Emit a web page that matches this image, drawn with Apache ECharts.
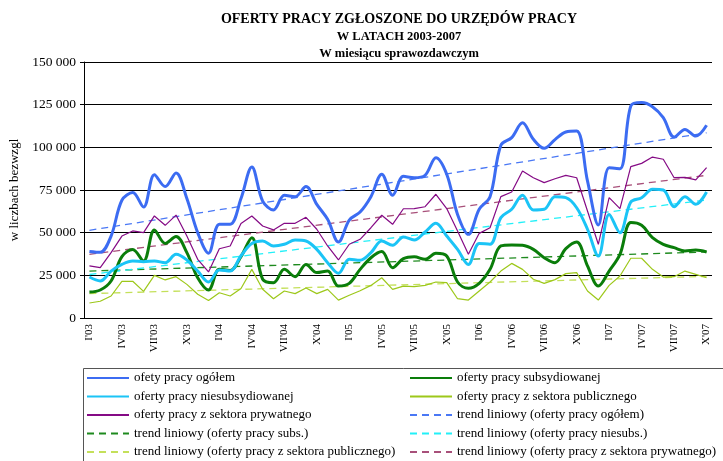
<!DOCTYPE html>
<html style="height: 100%">
<head>
    <meta charset="utf-8">
</head>
<body style="height: 100%; margin: 0; background: #fff">
<div id="container" style="width: 723px; height: 461px"></div>

<script type="text/javascript" src="https://cdn.jsdelivr.net/npm/echarts@6/dist/echarts.min.js"></script>
<script type="text/javascript">
    // miesiące I'03 .. X'07
    var roman = ['I', 'II', 'III', 'IV', 'V', 'VI', 'VII', 'VIII', 'IX', 'X', 'XI', 'XII'];
    var years = ['03', '04', '05', '06', '07'];
    var months = [];
    years.forEach(function (y) {
        roman.forEach(function (m) { months.push(m + "'" + y); });
    });
    months = months.slice(0, 58);

    // wartości
    var ogolem = [39000, 38500, 48000, 69000, 73500, 65000, 84000, 77000, 85000, 70000, 50000, 38000,
        55000, 55000, 70000, 88500, 68500, 63300, 71900, 71100, 77000, 66600, 57800, 44500,
        57400, 62100, 71100, 84200, 71900, 83000, 82200, 83600, 93900, 84200, 60700, 49000,
        63700, 71100, 101200, 105700, 114400, 104700, 99400, 104500, 109000, 109600, 80300, 54500,
        88000, 87500, 124200, 126200, 123800, 117400, 106000, 110500, 106600, 112900];
    var subs = [15200, 16400, 21700, 36000, 40200, 33400, 51600, 43700, 47700, 38300, 23600, 16400,
        28500, 27900, 36000, 47000, 22700, 20700, 28500, 24200, 31400, 26600, 27500, 18700,
        20300, 28500, 35300, 38900, 29500, 34800, 35900, 34400, 37900, 36300, 21100, 17400,
        20300, 28500, 42200, 42800, 42600, 40200, 35300, 32400, 40600, 44500, 30500, 18700,
        27500, 37300, 55900, 54300, 47100, 43200, 41200, 39300, 39800, 38700];
    var niesubs = [24000, 21700, 27500, 31400, 33400, 33000, 33400, 32400, 37300, 34000, 27500, 21100,
        28100, 27500, 36500, 43700, 45100, 42200, 43200, 45700, 45100, 40200, 32400, 26200,
        34400, 33800, 38300, 45100, 42600, 47500, 45700, 50400, 55500, 48000, 40200, 31400,
        43700, 43200, 58800, 63700, 71900, 63300, 63700, 71100, 70500, 64600, 52000, 36300,
        60700, 50000, 68000, 70500, 75400, 75000, 65200, 71100, 66600, 73800];
    var publiczny = [8800, 9800, 12900, 21500, 21500, 15600, 25000, 22300, 24200, 19700, 13900, 10200,
        14800, 12900, 17300, 28500, 16800, 11300, 15800, 14300, 17600, 14300, 16800, 10500,
        13300, 16000, 19100, 23600, 16800, 18700, 18400, 19100, 21100, 20700, 11300, 10500,
        15800, 21100, 27500, 32000, 28500, 22700, 20300, 22500, 26000, 26600, 15800, 10500,
        19100, 24600, 35000, 35000, 28500, 24000, 24200, 27500, 25600, 23600];
    var prywatny = [30500, 29500, 38300, 48000, 51000, 50000, 59800, 54300, 60300, 48000, 34400, 27000,
        40600, 42200, 55400, 59800, 53900, 51600, 55500, 55500, 59000, 52000, 42200, 34000,
        43200, 46100, 52900, 60200, 54900, 64000, 64100, 65200, 72500, 64100, 51000, 37300,
        49600, 52900, 71100, 73800, 86100, 82200, 79300, 81600, 83600, 82200, 62700, 43200,
        70500, 64100, 88700, 90600, 94300, 93000, 82200, 82400, 80900, 88100];

    // trendy liniowe: wartość na początku (I'03) i na końcu (X'07)
    var trendOgolem = [51400, 108500];
    var trendSubs = [27500, 38700];
    var trendNiesubs = [25500, 69100];
    var trendPubliczny = [14300, 24400];
    var trendPrywatny = [37300, 83600];

    var yTicks = [0, 25000, 50000, 75000, 100000, 125000, 150000];

    var serif = 'Liberation Serif';

    function fmt(v) {
        return String(v).replace(/\B(?=(\d{3})+(?!\d))/g, ' ');
    }
    function trend(pair) {
        return [[0, pair[0]], [months.length - 1, pair[1]]];
    }
    function solid(name, data, color, width, smooth) {
        return {
            name: name, type: 'line', data: data, smooth: smooth, symbol: 'none',
            lineStyle: { color: color, width: width }, itemStyle: { color: color }
        };
    }
    function dashed(name, pair, color) {
        return {
            name: name, type: 'line', data: trend(pair), symbol: 'none', z: 3,
            lineStyle: { color: color, width: 1.3, type: [7, 5] }, itemStyle: { color: color }
        };
    }

    var names = {
        ogolem: 'ofety pracy ogółem',
        subs: 'oferty pracy subsydiowanej',
        niesubs: 'oferty pracy niesubsydiowanej',
        publ: 'oferty pracy z sektora publicznego',
        pryw: 'oferty pracy z sektora prywatnego',
        tOgolem: 'trend liniowy (oferty pracy ogółem)',
        tSubs: 'trend liniowy (oferty pracy subs.)',
        tNiesubs: 'trend liniowy (oferty pracy niesubs.)',
        tPubl: 'trend liniowy (oferty pracy z sektora publicznego)',
        tPryw: 'trend liniowy (oferty pracy z sektora prywatnego)'
    };

    var dom = document.getElementById("container");
    var myChart = echarts.init(dom, null, { renderer: 'canvas' });

    var legendBase = {
        orient: 'vertical', top: 371, padding: 0, itemGap: 4.5, itemHeight: 14, itemWidth: 42,
        itemStyle: { opacity: 0 },
        textStyle: { fontFamily: serif, fontSize: 13, color: '#000', lineHeight: 14 },
        selectedMode: false
    };

    var option = {
        animation: false,
        backgroundColor: '#fff',
        title: {
            text: '{a|OFERTY PRACY ZGŁOSZONE DO URZĘDÓW PRACY}\n{b|W LATACH 2003-2007}\n{b|W miesiącu sprawozdawczym}',
            left: 394, top: 6, textAlign: 'center',
            textStyle: {
                rich: {
                    a: { fontFamily: serif, fontWeight: 'bold', fontSize: 14, lineHeight: 17, color: '#000' },
                    b: { fontFamily: serif, fontWeight: 'bold', fontSize: 12.5, lineHeight: 17, color: '#000' }
                }
            }
        },
        legend: [
            Object.assign({}, legendBase, {
                left: 86,
                data: [names.ogolem, names.niesubs, names.pryw, names.tSubs, names.tPubl]
            }),
            Object.assign({}, legendBase, {
                left: 409,
                data: [names.subs, names.publ, names.tOgolem, names.tNiesubs, names.tPryw]
            })
        ],
        graphic: [{
            type: 'rect', left: 81, top: 366, silent: true,
            shape: { width: 660, height: 100 },
            style: { fill: 'none', stroke: '#555', lineWidth: 1 }
        }],
        grid: { left: 84, right: 11, top: 62, bottom: 143 },
        xAxis: {
            type: 'category', data: months, boundaryGap: true,
            axisLine: { lineStyle: { color: '#000', width: 1 } },
            axisTick: { interval: 0, length: 4, lineStyle: { color: '#000' } },
            axisLabel: {
                interval: 2, rotate: 90, margin: 6,
                fontFamily: serif, fontSize: 11, color: '#000'
            }
        },
        yAxis: {
            type: 'value', min: yTicks[0], max: yTicks[yTicks.length - 1], interval: yTicks[1] - yTicks[0],
            name: 'w liczbach bezwzgl', nameLocation: 'middle', nameGap: 62, nameRotate: 90,
            nameTextStyle: { fontFamily: serif, fontSize: 13, color: '#000' },
            axisLine: { show: true, lineStyle: { color: '#000' } },
            axisTick: { show: true, length: 4, lineStyle: { color: '#000' } },
            axisLabel: { fontFamily: serif, fontSize: 13.5, color: '#000', margin: 8, formatter: fmt },
            splitLine: { lineStyle: { color: '#000', width: 1 } }
        },
        series: [
            dashed(names.tOgolem, trendOgolem, '#4A78F5'),
            dashed(names.tSubs, trendSubs, '#1E8A1E'),
            dashed(names.tNiesubs, trendNiesubs, '#22F0F8'),
            dashed(names.tPubl, trendPubliczny, '#C4E05A'),
            dashed(names.tPryw, trendPrywatny, '#A8507A'),
            solid(names.publ, publiczny, '#9DC81A', 1.2, false),
            solid(names.pryw, prywatny, '#850A85', 1.2, false),
            solid(names.subs, subs, '#0A7D0A', 3, 0.35),
            solid(names.niesubs, niesubs, '#1BC4F6', 3, 0.35),
            solid(names.ogolem, ogolem, '#3C6CF2', 3, 0.35)
        ]
    };

    myChart.setOption(option);
</script>
</body>
</html>
